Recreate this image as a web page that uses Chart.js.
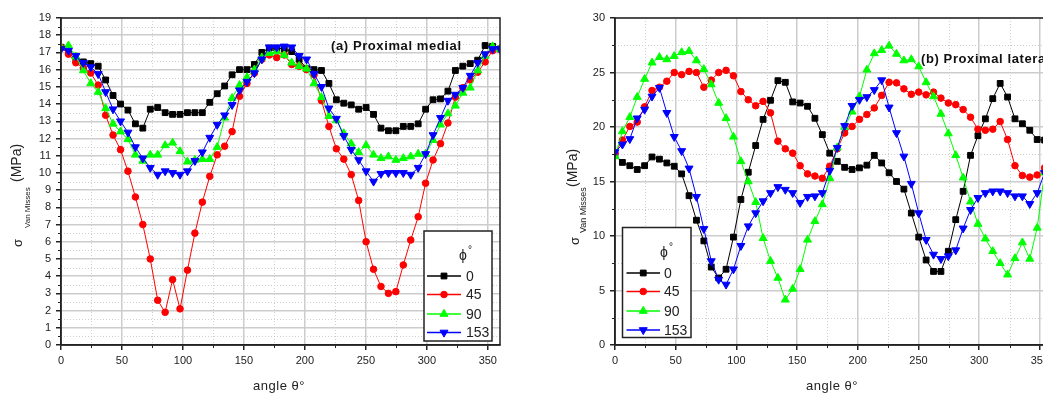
<!DOCTYPE html>
<html>
<head>
<meta charset="utf-8">
<script src="https://cdn.jsdelivr.net/npm/chart.js@4.4.1/dist/chart.umd.min.js"></script>
<style>
html, body { margin: 0; padding: 0; background: #fff; overflow: hidden; width: 1043px; height: 394px; }
canvas { position: absolute; top: 0; }
#chartA { left: 0; }
#chartB { left: 560px; }
</style>
</head>
<body>
<canvas id="chartA" width="520" height="394"></canvas>
<canvas id="chartB" width="520" height="394"></canvas>
<script>
// ── Datos ──────────────────────────────────────────────────────────────────
var angles = [0, 6.1, 12.2, 18.3, 24.4, 30.5, 36.6, 42.7, 48.8, 54.9,
              61, 67.1, 73.2, 79.3, 85.4, 91.5, 97.6, 103.7, 109.8, 115.9,
              122, 128.1, 134.2, 140.3, 146.4, 152.5, 158.6, 164.7, 170.8, 176.9,
              183.1, 189.2, 195.3, 201.4, 207.5, 213.6, 219.7, 225.8, 231.9, 238,
              244.1, 250.2, 256.3, 262.4, 268.5, 274.6, 280.7, 286.8, 292.9, 299,
              305.1, 311.2, 317.3, 323.4, 329.5, 335.6, 341.7, 347.8, 353.9, 360];

var phiLabels = ['0', '45', '90', '153'];
var xTickValues  = [0, 50, 100, 150, 200, 250, 300, 350];
var yTickValuesA = [0, 1, 2, 3, 4, 5, 6, 7, 8, 9, 10, 11, 12, 13, 14, 15, 16, 17, 18, 19];
var yTickValuesB = [0, 5, 10, 15, 20, 25, 30];

// (a) Proximal medial
var medial0 = [17.3, 17.0, 16.55, 16.45, 16.35, 16.2, 15.4, 14.5, 14.0, 13.65,
               12.85, 12.6, 13.7, 13.8, 13.5, 13.4, 13.4, 13.5, 13.5, 13.5,
               14.1, 14.6, 15.05, 15.7, 16.0, 16.0, 16.3, 17.0, 17.25, 17.25,
               17.2, 17.05, 16.6, 16.05, 16.0, 15.95, 15.2, 14.25, 14.05, 13.95,
               13.7, 13.8, 13.4, 12.6, 12.45, 12.45, 12.7, 12.7, 12.85, 13.7,
               14.25, 14.3, 14.75, 15.95, 16.2, 16.35, 16.55, 17.4, 17.35, 17.2];
var medial45 = [17.3, 16.9, 16.4, 16.1, 15.8, 15.1, 13.35, 12.2, 11.35, 10.1,
                8.6, 7.0, 5.0, 2.6, 1.9, 3.8, 2.1, 4.35, 6.5, 8.3,
                9.8, 11.05, 11.55, 12.4, 14.45, 15.2, 15.8, 16.6, 16.85, 16.7,
                16.85, 16.3, 16.2, 16.0, 15.7, 14.2, 12.7, 11.4, 10.8, 9.9,
                8.4, 6.0, 4.4, 3.4, 3.0, 3.1, 4.65, 6.1, 7.45, 9.4,
                10.75, 11.7, 12.9, 14.4, 14.95, 15.4, 15.85, 16.45, 17.1, 17.2];
var medial90 = [17.3, 17.4, 16.75, 15.95, 15.2, 14.7, 13.75, 12.85, 12.4, 11.95,
                11.05, 10.7, 11.05, 11.05, 11.6, 11.75, 11.25, 10.65, 10.75, 10.8,
                10.8, 11.5, 13.2, 14.35, 15.1, 15.55, 16.0, 16.7, 16.95, 17.05,
                16.85, 16.4, 16.2, 16.05, 15.2, 14.4, 13.3, 13.05, 12.3, 11.7,
                11.2, 11.6, 11.05, 10.85, 10.95, 10.75, 10.85, 10.95, 11.1, 11.1,
                11.9, 12.8, 13.45, 13.9, 14.65, 14.95, 15.95, 16.8, 17.35, 17.2];
var medial153 = [17.2, 17.1, 16.8, 16.4, 16.15, 15.75, 14.7, 13.7, 13.0, 12.35,
                 11.5, 10.85, 10.3, 9.9, 10.1, 10.0, 9.9, 10.1, 10.7, 11.2,
                 12.05, 12.8, 13.35, 13.95, 14.8, 15.3, 15.8, 16.6, 17.3, 17.3,
                 17.35, 17.3, 16.8, 16.6, 15.75, 15.0, 13.75, 13.15, 12.15, 11.35,
                 10.75, 10.1, 9.5, 9.95, 10.0, 10.0, 10.0, 9.9, 10.3, 11.1,
                 12.2, 13.2, 14.2, 14.55, 14.95, 15.65, 16.4, 16.9, 17.2, 17.2];

// (b) Proximal lateral
var lateral0 = [17.4, 16.75, 16.45, 16.1, 16.45, 17.25, 17.05, 16.7, 16.4, 15.7,
                13.7, 11.45, 9.55, 7.15, 6.15, 6.95, 9.9, 13.35, 15.85, 18.3,
                20.7, 22.45, 24.25, 24.1, 22.3, 22.2, 21.9, 20.8, 19.3, 17.6,
                16.85, 16.3, 16.1, 16.25, 16.5, 17.4, 16.7, 15.8, 15.0, 14.3,
                12.1, 9.9, 7.8, 6.75, 6.75, 8.6, 11.5, 14.1, 17.4, 19.2,
                20.75, 22.6, 24.0, 22.75, 20.75, 20.3, 19.7, 18.85, 18.8, 17.4];
var lateral45 = [17.6, 18.8, 20.05, 20.45, 21.85, 23.35, 23.65, 24.2, 25.0, 24.8,
                 25.1, 25.0, 23.65, 24.3, 25.0, 25.2, 24.7, 23.25, 22.5, 21.95,
                 22.35, 21.3, 18.7, 18.0, 17.6, 16.45, 15.7, 15.5, 15.3, 16.4,
                 18.0, 19.45, 20.05, 20.7, 21.15, 21.75, 22.9, 24.1, 24.05, 23.5,
                 23.0, 23.2, 22.95, 23.2, 22.65, 22.2, 22.05, 21.6, 20.9, 19.8,
                 19.7, 19.8, 20.5, 18.85, 16.45, 15.55, 15.4, 15.6, 16.25, 17.6];
var lateral90 = [17.3, 19.6, 20.9, 22.75, 24.4, 25.9, 26.4, 26.2, 26.5, 26.85,
                 26.95, 26.1, 25.3, 23.9, 22.2, 20.8, 19.1, 16.85, 15.0, 13.1,
                 9.8, 7.7, 6.15, 4.15, 5.15, 6.95, 9.65, 11.35, 12.9, 15.3,
                 18.1, 20.0, 21.4, 22.8, 25.25, 26.75, 27.05, 27.45, 26.7, 26.1,
                 26.2, 25.55, 24.1, 22.8, 21.2, 19.4, 17.4, 15.35, 13.15, 11.1,
                 9.75, 8.6, 7.5, 6.45, 7.95, 9.4, 7.9, 10.75, 15.8, 17.3];
var lateral153 = [17.7, 18.4, 18.9, 20.8, 21.6, 22.8, 23.6, 21.3, 19.1, 17.8,
                  16.2, 13.6, 10.65, 7.7, 6.0, 5.55, 6.95, 9.1, 10.9, 12.1,
                  13.2, 13.95, 14.5, 14.25, 13.95, 13.05, 13.6, 13.65, 13.95, 16.0,
                  18.1, 20.1, 21.95, 22.5, 22.75, 23.4, 24.3, 21.8, 19.45, 17.3,
                  14.8, 12.1, 9.65, 8.3, 7.9, 8.15, 8.7, 10.7, 12.4, 13.5,
                  13.95, 14.1, 14.1, 13.95, 13.65, 13.65, 12.95, 13.95, 15.8, 17.7];

// ── Estilos ────────────────────────────────────────────────────────────────
var FONT = '"Liberation Sans", Arial, sans-serif';
var serieColors = ['#000000', '#ff0000', '#00ff00', '#0000ff'];
var serieMarks  = [
    { pointStyle: 'rect',     radius: 4.1, rotation: 0 },
    { pointStyle: 'circle',   radius: 3.3, rotation: 0 },
    { pointStyle: 'triangle', radius: 4.6, rotation: 0 },
    { pointStyle: 'triangle', radius: 4.6, rotation: 180 }
];

function buildDatasets(series) {
    return series.map(function (vals, k) {
        return {
            label: phiLabels[k],
            data: angles.map(function (a, i) { return { x: a, y: vals[i] }; }),
            borderColor: serieColors[k],
            backgroundColor: serieColors[k],
            pointBackgroundColor: serieColors[k],
            pointBorderColor: serieColors[k],
            borderWidth: 1,
            pointBorderWidth: 1,
            pointStyle: serieMarks[k].pointStyle,
            pointRadius: serieMarks[k].radius,
            pointRotation: serieMarks[k].rotation,
            tension: 0,
            order: 3 - k
        };
    });
}

function minorValues(ticks, max) {
    var out = [];
    for (var i = 0; i < ticks.length; i++) {
        var step = (i + 1 < ticks.length) ? ticks[i + 1] - ticks[i] : ticks[1] - ticks[0];
        var m = ticks[i] + step / 2;
        if (m < max) out.push(m);
    }
    return out;
}

// ── Plugin: rejilla menor, marco, leyenda, textos ─────────────────────────
var decor = {
    id: 'decor',
    beforeDatasetsDraw: function (chart, args, o) {
        var ctx = chart.ctx, a = chart.chartArea;
        var xs = chart.scales.x, ys = chart.scales.y;
        var xm = minorValues(o.xTicks, xs.max), ym = minorValues(o.yTicks, ys.max);
        ctx.save();
        ctx.lineWidth = 1;
        ctx.strokeStyle = '#cfcfcf';
        ctx.setLineDash([1, 2]);
        ctx.beginPath();
        xm.forEach(function (v) {
            var px = Math.round(xs.getPixelForValue(v)) + 0.5;
            ctx.moveTo(px, a.top); ctx.lineTo(px, a.bottom);
        });
        ym.forEach(function (v) {
            var py = Math.round(ys.getPixelForValue(v)) + 0.5;
            ctx.moveTo(a.left, py); ctx.lineTo(a.right, py);
        });
        ctx.stroke();
        // ticks menores hacia fuera
        ctx.setLineDash([]);
        ctx.strokeStyle = '#222';
        ctx.beginPath();
        xm.forEach(function (v) {
            var px = Math.round(xs.getPixelForValue(v)) + 0.5;
            ctx.moveTo(px, a.bottom); ctx.lineTo(px, a.bottom + 3);
        });
        ym.forEach(function (v) {
            var py = Math.round(ys.getPixelForValue(v)) + 0.5;
            ctx.moveTo(a.left - 3, py); ctx.lineTo(a.left, py);
        });
        ctx.stroke();
        ctx.restore();
    },
    afterDraw: function (chart, args, o) {
        var ctx = chart.ctx, a = chart.chartArea;
        ctx.save();
        // marco
        ctx.lineWidth = 1.5;
        ctx.strokeStyle = '#222';
        ctx.strokeRect(a.left, a.top, a.right - a.left, a.bottom - a.top);

        // rótulo del panel
        ctx.fillStyle = '#111';
        ctx.font = 'bold 13px ' + FONT;
        ctx.letterSpacing = '0.6px';
        ctx.textBaseline = 'middle';
        ctx.textAlign = 'left';
        ctx.fillText(o.panelTitle, o.panelTitleX, o.panelTitleY);
        ctx.letterSpacing = '0px';

        // leyenda
        var L = o.legend;
        ctx.fillStyle = '#fff';
        ctx.fillRect(L.x, L.y, L.w, L.h);
        ctx.lineWidth = 1.5;
        ctx.strokeStyle = '#222';
        ctx.strokeRect(L.x, L.y, L.w, L.h);
        ctx.fillStyle = '#222';
        ctx.font = '14px ' + FONT;
        ctx.textAlign = 'center';
        ctx.fillText('\u03D5', L.headX, L.headY + 2);
        ctx.font = '10px ' + FONT;
        ctx.fillText('\u00B0', L.headX + 7, L.headY - 4);
        ctx.textAlign = 'left';
        ctx.font = '14px ' + FONT;
        phiLabels.forEach(function (lab, k) {
            var ry = L.rows[k];
            ctx.strokeStyle = serieColors[k];
            ctx.fillStyle = serieColors[k];
            ctx.lineWidth = 1.5;
            ctx.beginPath();
            ctx.moveTo(L.lineX1, ry); ctx.lineTo(L.lineX2, ry);
            ctx.stroke();
            ctx.lineWidth = 1;
            Chart.helpers.drawPoint(ctx, {
                pointStyle: serieMarks[k].pointStyle,
                radius: serieMarks[k].radius,
                rotation: serieMarks[k].rotation,
                borderWidth: 1
            }, (L.lineX1 + L.lineX2) / 2, ry);
            ctx.fillStyle = '#222';
            ctx.fillText(lab, L.labelX, ry + 1);
        });

        // título eje x
        ctx.fillStyle = '#222';
        ctx.font = '13px ' + FONT;
        ctx.letterSpacing = '0.5px';
        ctx.textAlign = 'center';
        ctx.fillText('angle \u03B8\u00B0', o.xTitleX, o.xTitleY);
        ctx.letterSpacing = '0px';

        // título eje y (σ con subíndice)
        var T = o.yTitle;
        ctx.translate(T.x, T.y);
        ctx.rotate(-Math.PI / 2);
        ctx.textAlign = 'left';
        ctx.font = '13px ' + FONT;
        ctx.fillText('\u03C3', 0, 0);
        ctx.font = T.subSize + 'px ' + FONT;
        ctx.fillText('Van Misses', T.subStart, T.subShift);
        ctx.font = T.unitSize + 'px ' + FONT;
        ctx.fillText('(MPa)', T.unitStart, T.unitShift);
        ctx.restore();
    }
};

function makeChart(id, series, yTicks, yMax, pad, yWidth, deco) {
    return new Chart(document.getElementById(id), {
        type: 'line',
        data: { datasets: buildDatasets(series) },
        plugins: [decor],
        options: {
            responsive: false,
            animation: false,
            devicePixelRatio: 1,
            layout: { padding: pad },
            plugins: {
                legend: { display: false },
                tooltip: { enabled: false },
                decor: deco
            },
            scales: {
                x: {
                    type: 'linear', min: 0, max: 360,
                    afterBuildTicks: function (s) { s.ticks = xTickValues.map(function (v) { return { value: v }; }); },
                    afterFit: function (s) { s.height = 49; s.paddingLeft = 0; s.paddingRight = 0; },
                    grid: { color: '#cccccc', lineWidth: 1.5, tickColor: '#222', tickLength: 5 },
                    border: { color: '#222', width: 1.5 },
                    ticks: { color: '#222', font: { family: FONT, size: 11 }, padding: 4, maxRotation: 0, autoSkip: false }
                },
                y: {
                    type: 'linear', min: 0, max: yMax,
                    afterBuildTicks: function (s) { s.ticks = yTicks.map(function (v) { return { value: v }; }); },
                    afterFit: function (s) { s.width = yWidth; s.paddingTop = 0; s.paddingBottom = 0; },
                    grid: { color: '#cccccc', lineWidth: 1.5, tickColor: '#222', tickLength: 5 },
                    border: { color: '#222', width: 1.5 },
                    ticks: { color: '#222', font: { family: FONT, size: 11 }, padding: 5, autoSkip: false }
                }
            }
        }
    });
}

// ── Inicio ─────────────────────────────────────────────────────────────────
makeChart('chartA', [medial0, medial45, medial90, medial153], yTickValuesA, 19,
    { top: 18, right: 20, left: 0, bottom: 0 }, 61, {
        xTicks: xTickValues, yTicks: yTickValuesA,
        panelTitle: '(a) Proximal medial', panelTitleX: 331, panelTitleY: 46,
        legend: { x: 424, y: 231, w: 68, h: 110, headX: 463, headY: 254,
                  lineX1: 427, lineX2: 461, labelX: 466, rows: [276, 294.5, 314, 332.5] },
        xTitleX: 279, xTitleY: 386,
        yTitle: { x: 18, y: 247, subSize: 8, subStart: 19, subShift: 10, unitSize: 14, unitStart: 65, unitShift: -1 }
    });

makeChart('chartB', [lateral0, lateral45, lateral90, lateral153], yTickValuesB, 30,
    { top: 18, right: 28, left: 0, bottom: 0 }, 55, {
        xTicks: xTickValues, yTicks: yTickValuesB,
        panelTitle: '(b) Proximal lateral', panelTitleX: 361, panelTitleY: 59,
        legend: { x: 62.5, y: 227.5, w: 68.5, h: 110, headX: 104, headY: 251,
                  lineX1: 66.5, lineX2: 100, labelX: 104, rows: [273, 291.5, 311, 330] },
        xTitleX: 272, xTitleY: 386,
        yTitle: { x: 15, y: 245, subSize: 9, subStart: 12, subShift: 9, unitSize: 14, unitStart: 58, unitShift: -2 }
    });
</script>
</body>
</html>
